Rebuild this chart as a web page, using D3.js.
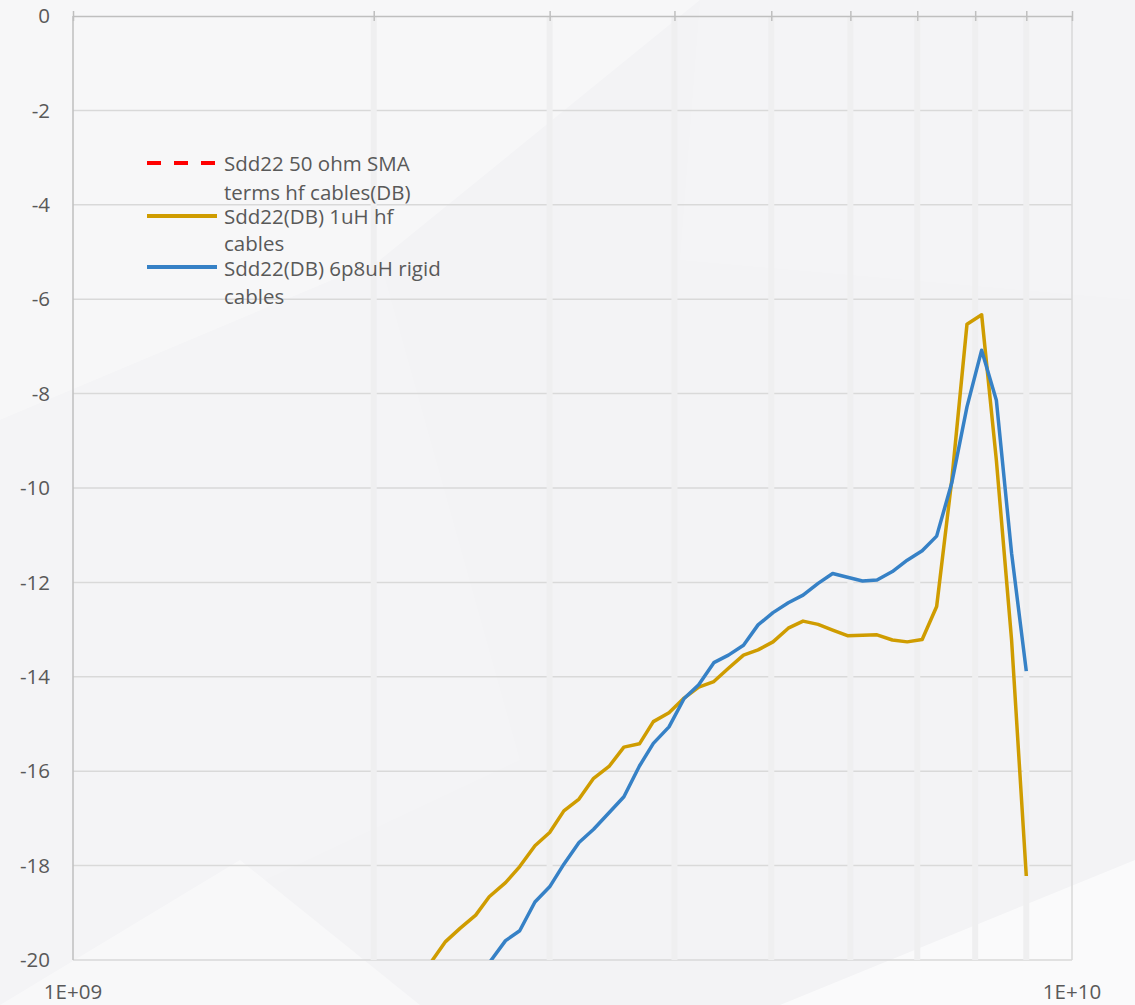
<!DOCTYPE html>
<html>
<head>
<meta charset="utf-8">
<script src="https://cdn.jsdelivr.net/npm/d3@7"></script>
<style>
  body { margin: 0; background: #f4f4f6; }
  svg { display: block; }
  text { font-family: "Open Sans", "Noto Sans", sans-serif; fill: #595959; }
</style>
</head>
<body>
<div id="chart"></div>
<script>
// frequency points (GHz)
var freqGHz = [2.20, 2.28, 2.36, 2.44, 2.53, 2.61, 2.71, 2.80, 2.90, 3.00,
  3.10, 3.21, 3.32, 3.44, 3.56, 3.69, 3.81, 3.95, 4.09, 4.23,
  4.38, 4.53, 4.69, 4.85, 5.02, 5.20, 5.38, 5.57, 5.76, 5.96,
  6.17, 6.38, 6.61, 6.84, 7.08, 7.32, 7.58, 7.85, 8.12, 8.40,
  8.70, 9.00];

// Sdd22(DB) 1uH hf cables
var sdd22_1uH = [-20.45, -20.06, -19.61, -19.33, -19.05, -18.66, -18.36, -18.02, -17.58, -17.30,
  -16.84, -16.59, -16.15, -15.90, -15.49, -15.42, -14.95, -14.76, -14.45, -14.22,
  -14.10, -13.82, -13.54, -13.43, -13.26, -12.97, -12.82, -12.89, -13.01, -13.13,
  -13.12, -13.11, -13.22, -13.26, -13.21, -12.51, -9.83, -6.53, -6.33, -9.41,
  -13.22, -18.22];

// Sdd22(DB) 6p8uH rigid cables
var sdd22_6p8uH = [null, null, null, null, -20.50, -20.06, -19.59, -19.38, -18.77, -18.45,
  -17.97, -17.51, -17.23, -16.88, -16.54, -15.89, -15.41, -15.06, -14.46, -14.17,
  -13.70, -13.54, -13.33, -12.90, -12.64, -12.43, -12.27, -12.02, -11.81, -11.89,
  -11.97, -11.95, -11.77, -11.53, -11.33, -11.02, -9.89, -8.28, -7.08, -8.14,
  -11.38, -13.88];

// Sdd22 50 ohm SMA terms hf cables(DB) - nothing visible inside the plotted range
var sdd22_50ohm = [];

var yTicks = [0, -2, -4, -6, -8, -10, -12, -14, -16, -18, -20];
var xLabels = [{ v: 1e9, t: "1E+09" }, { v: 1e10, t: "1E+10" }];
var minorX = [2e9, 3e9, 4e9, 5e9, 6e9, 7e9, 8e9, 9e9];

var seriesNames = [
  ["Sdd22 50 ohm SMA", "terms hf cables(DB)"],
  ["Sdd22(DB) 1uH hf", "cables"],
  ["Sdd22(DB) 6p8uH rigid", "cables"]
];
var seriesColors = ["#ff0000", "#cf9c00", "#3681c6"];

var svgWidth = 1135;
var svgHeight = 1005;
var margin = { top: 16, right: 63, bottom: 45, left: 73 };
var width = svgWidth - margin.left - margin.right;
var height = svgHeight - margin.top - margin.bottom;

var svg = d3.select("#chart")
  .append("svg")
  .attr("width", svgWidth)
  .attr("height", svgHeight);

// faint background shapes
svg.append("rect").attr("width", svgWidth).attr("height", svgHeight).attr("fill", "#f3f3f5");
var bgShapes = [
  [[0, 0], [700, 0], [380, 260], [0, 420]],
  [[0, 420], [380, 260], [520, 760], [0, 1005]],
  [[700, 0], [1135, 0], [1135, 300], [680, 260]],
  [[780, 1005], [1135, 860], [1135, 1005]],
  [[0, 1005], [240, 860], [420, 1005]]
];
svg.selectAll(".bg")
  .data(bgShapes)
  .enter()
  .append("polygon")
  .attr("points", d => d.map(p => p.join(",")).join(" "))
  .attr("fill", "#ffffff")
  .attr("opacity", (d, i) => [0.35, 0.12, 0.15, 0.6, 0.4][i]);

var chartGroup = svg.append("g")
  .attr("transform", `translate(${margin.left}, ${margin.top})`);

var xLogScale = d3.scaleLog()
  .domain([1e9, 1e10])
  .range([0, width]);

var yLinearScale = d3.scaleLinear()
  .domain([-20, 0])
  .range([height, 0]);

// horizontal gridlines
chartGroup.selectAll(".hgrid")
  .data(yTicks.filter(d => d !== 0))
  .enter()
  .append("line")
  .attr("x1", 0)
  .attr("x2", width)
  .attr("y1", d => yLinearScale(d))
  .attr("y2", d => yLinearScale(d))
  .attr("stroke", "#d9d9d9")
  .attr("stroke-width", 1.5);

// minor vertical gridlines (wide, very light)
chartGroup.selectAll(".vgrid")
  .data(minorX)
  .enter()
  .append("line")
  .attr("x1", d => xLogScale(d))
  .attr("x2", d => xLogScale(d))
  .attr("y1", 0)
  .attr("y2", height)
  .attr("stroke", "#efeff0")
  .attr("stroke-width", 6);

// major vertical line at 1E+10
chartGroup.append("line")
  .attr("x1", xLogScale(1e10)).attr("x2", xLogScale(1e10))
  .attr("y1", 0).attr("y2", height)
  .attr("stroke", "#d9d9d9")
  .attr("stroke-width", 1.5);

// x axis sits at the top (crosses at 0)
var topAxis = d3.axisTop(xLogScale)
  .tickValues([1e9].concat(minorX).concat([1e10]))
  .tickSizeInner(5)
  .tickSizeOuter(0)
  .tickFormat("");
var xAxisG = chartGroup.append("g").call(topAxis);
xAxisG.select(".domain").attr("stroke", "#bfbfbf").attr("stroke-width", 1.5);
xAxisG.selectAll(".tick line")
  .attr("stroke", "#bfbfbf")
  .attr("stroke-width", 1.5)
  .attr("y1", 5);

// y axis line
chartGroup.append("line")
  .attr("x1", 0).attr("x2", 0)
  .attr("y1", 0).attr("y2", height)
  .attr("stroke", "#bfbfbf")
  .attr("stroke-width", 1.5);

// y tick labels
chartGroup.selectAll(".ylab")
  .data(yTicks)
  .enter()
  .append("text")
  .attr("x", -23)
  .attr("y", d => yLinearScale(d))
  .attr("dy", "0.35em")
  .attr("text-anchor", "end")
  .attr("font-size", 20.5)
  .text(d => d);

// x labels below the plot
chartGroup.selectAll(".xlab")
  .data(xLabels)
  .enter()
  .append("text")
  .attr("x", d => xLogScale(d.v))
  .attr("y", height + 39)
  .attr("text-anchor", "middle")
  .attr("font-size", 20.5)
  .text(d => d.t);

// series lines
chartGroup.append("clipPath")
  .attr("id", "plotClip")
  .append("rect")
  .attr("x", 0).attr("y", -5)
  .attr("width", width).attr("height", height + 5);

var line = d3.line()
  .defined(d => d.y !== null)
  .x(d => xLogScale(d.f * 1e9))
  .y(d => yLinearScale(d.y));

var seriesData = [sdd22_50ohm, sdd22_1uH, sdd22_6p8uH];
seriesData.forEach(function(vals, i) {
  if (!vals.length) return;
  var pts = freqGHz.map((f, k) => ({ f: f, y: vals[k] }));
  chartGroup.append("path")
    .datum(pts)
    .attr("clip-path", "url(#plotClip)")
    .attr("fill", "none")
    .attr("stroke", seriesColors[i])
    .attr("stroke-width", 3.5)
    .attr("stroke-linejoin", "round")
    .attr("d", line);
});

// legend
var legendRows = [
  { my: 163, lines: [171, 200] },
  { my: 216, lines: [224, 251] },
  { my: 267, lines: [276, 304] }
];
var legend = svg.append("g");
legendRows.forEach(function(r, i) {
  legend.append("line")
    .attr("x1", 147).attr("x2", 217)
    .attr("y1", r.my).attr("y2", r.my)
    .attr("stroke", seriesColors[i])
    .attr("stroke-width", 4)
    .attr("stroke-dasharray", i === 0 ? "14,13" : null);
  seriesNames[i].forEach(function(t, j) {
    legend.append("text")
      .attr("x", 224)
      .attr("y", r.lines[j])
      .attr("font-size", 20.5)
      .text(t);
  });
});
</script>
</body>
</html>
